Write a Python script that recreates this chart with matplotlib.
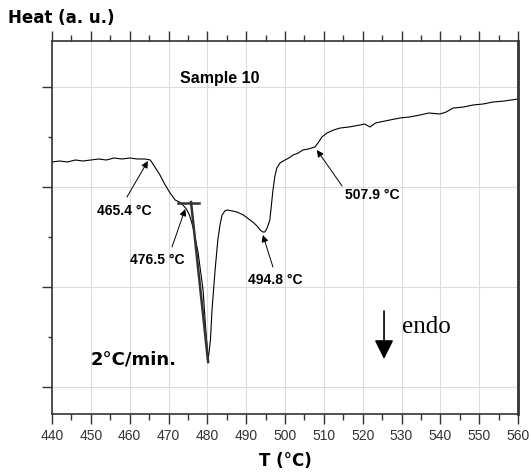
import matplotlib.pyplot as plt
from matplotlib.ticker import MultipleLocator

# ---- DSC trace (T in degC, heat flow in arbitrary units) ----
temp = [440, 442, 444, 446, 448, 450, 452, 454, 456, 458, 460, 462, 464, 465.3,
        466.5, 467.8, 469, 470.4, 471.7, 472.8, 473.7, 474.6, 475.4, 476.3, 477.6,
        478.9, 479.6, 480.2, 480.8, 481.2, 482.0, 482.7, 483.3, 483.8, 484.5, 485.1,
        486.5, 487.6, 489.3, 491.0, 492.0, 492.8, 493.6, 494.3, 494.8, 495.4, 496.1,
        496.5, 496.9, 497.4, 497.9, 498.7, 500.0, 501, 502.1, 503.4, 504.6, 506,
        507.7, 508.5, 509.5, 510.8, 512.5, 514.2, 516.5, 519.3, 520.5, 521.9, 523.3,
        524.5, 527, 529.6, 532, 534.8, 537, 539.9, 541.5, 543.3, 546, 548.4, 551,
        553.6, 556.5, 560]
heat = [2.25, 2.26, 2.25, 2.27, 2.26, 2.27, 2.28, 2.27, 2.29, 2.28, 2.29, 2.28, 2.28, 2.27,
        2.20, 2.12, 2.03, 1.94, 1.87, 1.85, 1.82, 1.78, 1.72, 1.60, 1.35,
        0.97, 0.57, 0.27, 0.47, 0.77, 1.17, 1.47, 1.63, 1.72, 1.76, 1.77,
        1.76, 1.75, 1.72, 1.67, 1.64, 1.61, 1.57, 1.55, 1.55, 1.59, 1.67,
        1.82, 1.97, 2.11, 2.19, 2.24, 2.27, 2.29, 2.32, 2.34, 2.37, 2.38,
        2.40, 2.44, 2.50, 2.54, 2.57, 2.59, 2.60, 2.62, 2.63, 2.60, 2.64,
        2.65, 2.67, 2.69, 2.70, 2.72, 2.74, 2.73, 2.75, 2.79, 2.80, 2.82, 2.83,
        2.85, 2.86, 2.88]

# onset construction (baseline + tangent)
base_T = [472.4, 477.9]
base_y = [1.84, 1.84]
tang_T = [475.8, 480.2]
tang_y = [1.85, 0.25]

# labelled temperatures: label, text position, arrow tail, arrow head
labels = ["465.4 °C", "476.5 °C", "494.8 °C", "507.9 °C"]
label_xy = [(458.5, 1.76), (467.0, 1.27), (497.4, 1.07), (522.4, 1.92)]
arrow_tail = [(459.3, 1.90), (470.9, 1.40), (496.9, 1.20), (514.7, 2.01)]
arrow_head = [(464.7, 2.26), (474.3, 1.78), (494.3, 1.52), (508.2, 2.37)]

xticks = list(range(440, 561, 10))

fig = plt.figure(figsize=(5.31, 4.73), dpi=100)
ax = fig.add_axes([52 / 531, 1 - 414 / 473, 466 / 531, 373 / 473])

ax.grid(True, color='#dcdcdc', lw=0.8)
ax.set_axisbelow(True)

ax.plot(temp, heat, color='black', lw=0.8)
ax.plot(base_T, base_y, color='#333333', lw=1.8)
ax.plot(tang_T, tang_y, color='#333333', lw=1.8)

for lab, pos, tail, head in zip(labels, label_xy, arrow_tail, arrow_head):
    ax.text(pos[0], pos[1], lab, ha='center', va='center', fontsize=10,
            fontweight='bold', family='Liberation Sans')
    ax.annotate('', xy=head, xytext=tail,
                arrowprops=dict(arrowstyle='-|>', color='black', lw=0.7,
                                mutation_scale=10, shrinkA=0, shrinkB=0))

ax.text(483.3, 3.08, "Sample 10", ha='center', va='center', fontsize=11.5,
        fontweight='bold', family='Liberation Sans')
ax.text(450.0, 0.28, "2°C/min.", ha='left', va='center', fontsize=13,
        fontweight='bold', family='DejaVu Sans')

# endo arrow
ax.annotate('', xy=(525.5, 0.28), xytext=(525.5, 0.76),
            arrowprops=dict(arrowstyle='-|>,head_length=0.58,head_width=0.29',
                            color='black', lw=1.2,
                            mutation_scale=20, shrinkA=0, shrinkB=0))
ax.text(530.1, 0.60, "endo", ha='left', va='center', fontsize=18,
        family='Liberation Serif')

ax.set_xlim(440, 560)
ax.set_ylim(-0.27, 3.46)
ax.set_xticks(xticks)
ax.xaxis.set_minor_locator(MultipleLocator(5))
ax.set_yticks([0, 1, 2, 3])
ax.yaxis.set_minor_locator(MultipleLocator(0.5))
ax.set_yticklabels([])

ax.tick_params(axis='x', which='both', top=True, bottom=True, direction='out',
               labelsize=10, labelcolor='#333333', colors='#333333', pad=4)
ax.tick_params(axis='x', which='major', length=7, width=1)
ax.tick_params(axis='x', which='minor', length=4, width=1)
ax.tick_params(axis='y', which='major', length=7, width=1, colors='#333333')
ax.tick_params(axis='y', which='minor', length=3, width=1, colors='#333333')
for lab in ax.get_xticklabels():
    lab.set_family('Liberation Sans')

for side in ['left', 'bottom', 'top']:
    ax.spines[side].set_color('#333333')
    ax.spines[side].set_linewidth(1.2)
ax.spines['right'].set_color('#333333')
ax.spines['right'].set_linewidth(2)

ax.set_xlabel("T (°C)", fontsize=12, fontweight='bold', labelpad=6)
fig.text(8 / 531, 1 - 18 / 473, "Heat (a. u.)", ha='left', va='center',
         fontsize=12, fontweight='bold')

fig.savefig('out.png', dpi=100)
